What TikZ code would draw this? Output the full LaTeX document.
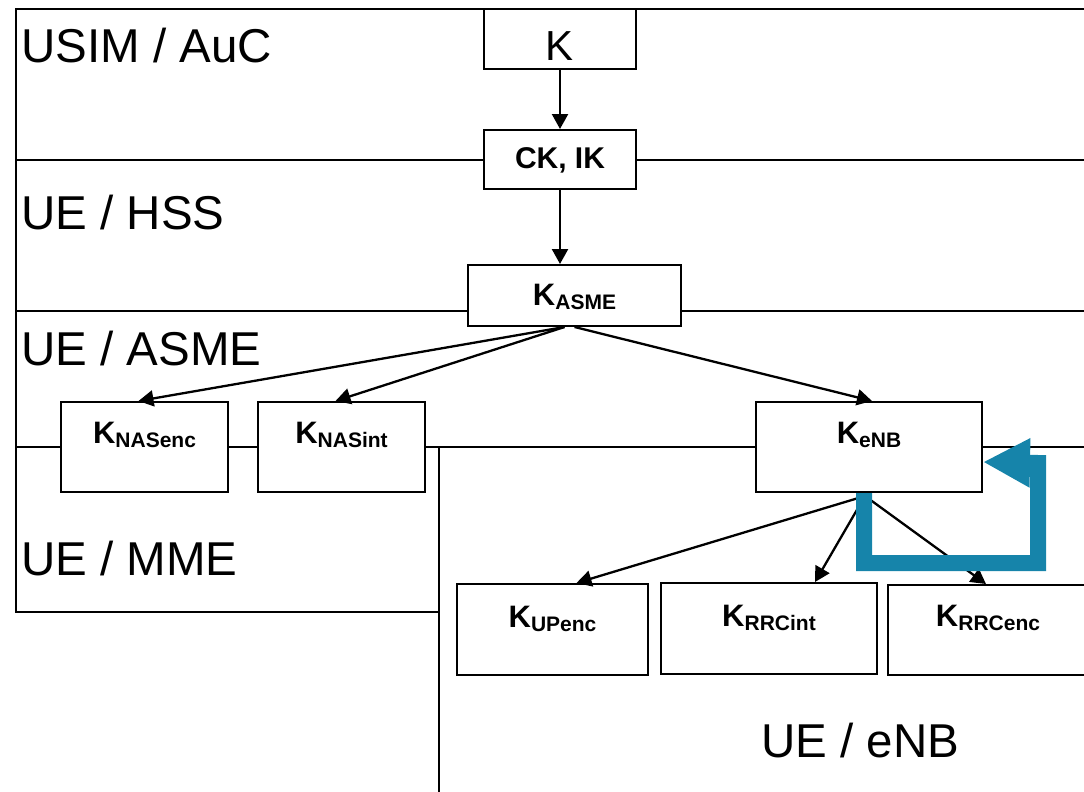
\documentclass[tikz,border=0pt]{standalone}
\usepackage{fontspec}
\setmainfont{Liberation Sans}
\usetikzlibrary{arrows.meta,calc}
\definecolor{loopblue}{RGB}{22,132,170}
% key name with a lowered, smaller subscript
\newcommand\keysub[1]{K\raisebox{-4pt}{\fontsize{21}{21}\selectfont #1}}
\begin{document}
\begin{tikzpicture}[x=1pt,y=-1pt,
  border/.style={line width=2pt},
  region/.style={anchor=base west, inner sep=0pt, font=\fontsize{47.5}{50}\selectfont},
  keybox/.style={draw, fill=white, line width=2pt, inner xsep=0pt, inner ysep=0pt,
    font=\bfseries\fontsize{31}{31}\selectfont},
  conn/.style={line width=2.3pt, -{Triangle[length=15pt,width=16pt]}},
  loop/.style={line width=16pt, draw=loopblue, line join=miter,
    -{Triangle[length=47pt,width=46pt]}}]
\useasboundingbox (0,0) rectangle (1084,792);

% domain borders
\draw[border] (1084,9) -- (16,9) -- (16,612) -- (439,612);
\draw[border] (16,160) -- (1084,160);
\draw[border] (16,311) -- (1084,311);
\draw[border] (16,447) -- (1084,447);
\draw[border] (439,447) -- (439,792);

% domain names
\node[region] (usim) at (21,63) {USIM / AuC};
\node[region] (hss)  at (21,229) {UE / HSS};
\node[region] (asme) at (21,365) {UE / ASME};
\node[region] (mme)  at (21,575) {UE / MME};
\node[region] (enb)  at (761,757) {UE / eNB};

% key hierarchy
\node[keybox, minimum width=152pt, text height=51pt, text depth=9pt,
  font=\fontsize{42}{42}\selectfont] (k) at (560,39) {K};
\node[keybox, minimum width=152pt, text height=38pt, text depth=21pt,
  font=\bfseries\fontsize{30}{30}\selectfont] (ckik) at (560,159.5) {CK, IK};
\node[keybox, minimum width=213pt, text height=40pt, text depth=21pt] (kasme) at (574.5,295.5) {\keysub{ASME}};
\node[keybox, minimum width=167pt, text height=41pt, text depth=49pt] (knasenc) at (144.5,447) {\keysub{NASenc}};
\node[keybox, minimum width=167pt, text height=41pt, text depth=49pt] (knasint) at (341.5,447) {\keysub{NASint}};
\node[keybox, minimum width=226pt, text height=41pt, text depth=49pt] (kenb) at (869,447) {\keysub{eNB}};
\node[keybox, minimum width=191pt, text height=43pt, text depth=48pt] (kupenc) at (552.5,629.5) {\keysub{UPenc}};
\node[keybox, minimum width=216pt, text height=43pt, text depth=48pt] (krrcint) at (769,628.5) {\keysub{RRCint}};
\node[keybox, minimum width=200pt, text height=41pt, text depth=49pt] (krrcenc) at (988,630) {\keysub{RRCenc}};

% derivations
\draw[conn] (k.south) -- (ckik.north);
\draw[conn] (ckik.south) -- (ckik.south |- kasme.north);
\draw[conn] ($(kasme.south)+(-10,0)$) -- ($(knasenc.north)+(-6,0)$);
\draw[conn] ($(kasme.south)+(-10,0)$) -- ($(knasint.north)+(-6,0)$);
\draw[conn] ($(kasme.south)+(0,0)$) -- ($(kenb.north)+(3,0)$);
\draw[conn] ($(kenb.south)+(-4,3)$) -- ($(kupenc.north)+(24,0)$);
\draw[conn] ($(kenb.south)+(-4,3)$) -- ($(krrcint.north)+(46,0)$);
\draw[conn] ($(kenb.south)+(-4,3)$) -- ($(krrcenc.north)+(-2,0)$);

% refresh loop back into KeNB
\draw[loop] ($(kenb.south)+(-5,0)$) -- ++(0,70) -- ++(174,0) -- ++(0,-100)
  -- ($(kenb.east)+(0,15)$);
\end{tikzpicture}
\end{document}
